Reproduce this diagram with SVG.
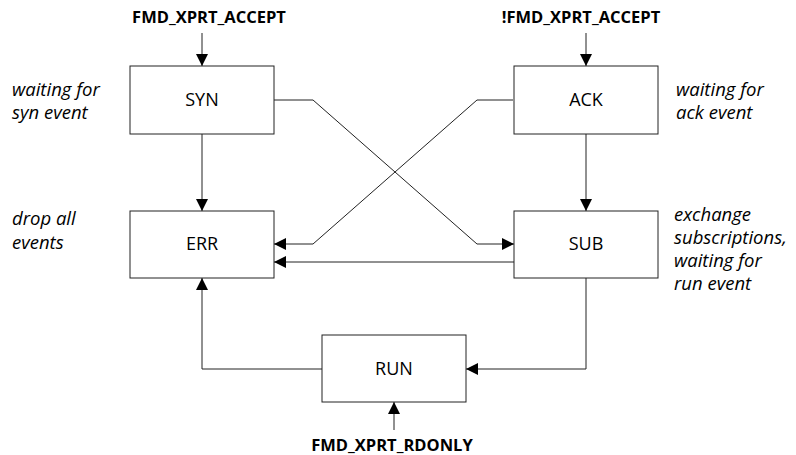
<svg xmlns="http://www.w3.org/2000/svg" width="796" height="455" viewBox="0 0 796 455">
<style>
.box{fill:#fff;stroke:#222;stroke-width:1}
.lbl{font-family:"Open Sans","Liberation Sans",sans-serif;font-size:18px;fill:#000;text-anchor:middle}
.note{font-family:"Open Sans","Liberation Sans",sans-serif;font-size:18.5px;font-style:italic;fill:#000}
.ev{font-family:"Open Sans","Liberation Sans",sans-serif;font-size:16.5px;font-weight:bold;fill:#000;text-anchor:middle}
.edge{fill:none;stroke:#222;stroke-width:1}
</style>
<defs>
<marker id="arr" viewBox="0 0 12 12" refX="12" refY="6" markerWidth="12" markerHeight="12" markerUnits="userSpaceOnUse" orient="auto">
<path d="M0,0 L12,6 L0,12 Z" fill="#000"/>
</marker>
</defs>
<rect width="796" height="455" fill="#fff"/>
<g id="connectors">
<path class="edge" d="M202,33 V66" marker-end="url(#arr)"/>
<path class="edge" d="M586,33 V66" marker-end="url(#arr)"/>
<path class="edge" d="M394,430 V402" marker-end="url(#arr)"/>
<path class="edge" d="M202,134 V211" marker-end="url(#arr)"/>
<path class="edge" d="M586,134 V211" marker-end="url(#arr)"/>
<path class="edge" d="M274,100 H313 L477,244 H514" marker-end="url(#arr)"/>
<path class="edge" d="M513,100 H477 L313,244 H274" marker-end="url(#arr)"/>
<path class="edge" d="M514,262 H274" marker-end="url(#arr)"/>
<path class="edge" d="M586,278 V369 H466" marker-end="url(#arr)"/>
<path class="edge" d="M322,369 H202 V278" marker-end="url(#arr)"/>
</g>
<g id="SYN"><rect class="box" x="130" y="66" width="144" height="68"/><text class="lbl" x="202" y="106">SYN</text></g>
<g id="ACK"><rect class="box" x="514" y="66" width="144" height="68"/><text class="lbl" x="586" y="106">ACK</text></g>
<g id="ERR"><rect class="box" x="130" y="211" width="144" height="67"/><text class="lbl" x="202" y="250">ERR</text></g>
<g id="SUB"><rect class="box" x="514" y="211" width="144" height="67"/><text class="lbl" x="586" y="250">SUB</text></g>
<g id="RUN"><rect class="box" x="322" y="335" width="144" height="67"/><text class="lbl" x="394" y="375">RUN</text></g>
<g id="notes">
<text class="note" x="12" y="96">waiting for</text>
<text class="note" x="12" y="119">syn event</text>
<text class="note" x="12" y="225">drop all</text>
<text class="note" x="12" y="249">events</text>
<text class="note" x="676" y="96">waiting for</text>
<text class="note" x="676" y="119">ack event</text>
<text class="note" x="674" y="221">exchange</text>
<text class="note" x="674" y="244">subscriptions,</text>
<text class="note" x="674" y="267">waiting for</text>
<text class="note" x="674" y="290">run event</text>
</g>
<g id="events">
<text class="ev" x="209" y="23">FMD_XPRT_ACCEPT</text>
<text class="ev" x="581" y="23">!FMD_XPRT_ACCEPT</text>
<text class="ev" x="392" y="451">FMD_XPRT_RDONLY</text>
</g>
</svg>
